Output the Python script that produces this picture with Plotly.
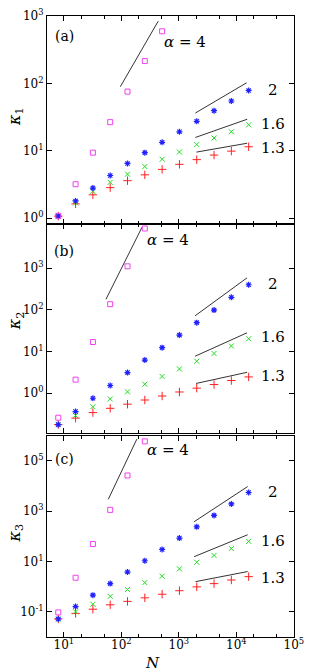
import plotly.graph_objects as go

# ---------------- data ----------------
N = [8, 16, 32, 64, 128, 256, 512, 1024, 2048, 4096, 8192, 16384]

K1_A4 = [1.08, 3.19, 9.4, 26.7, 76, 216, 598]
K1_A2 = [1.07, 1.8, 2.8, 4.3, 6.5, 9.4, 13.4, 19.2, 27.5, 39.5, 55, 79]
K1_A16 = [1.07, 1.68, 2.5, 3.4, 4.5, 5.85, 7.5, 9.6, 12.4, 15.5, 19.2, 24.4]
K1_A13 = [1.07, 1.63, 2.22, 2.84, 3.6, 4.4, 5.3, 6.3, 7.4, 8.65, 9.9, 11.5]

K2_A4 = [0.256, 2.1, 16.8, 136, 1100, 8900]
K2_A2 = [0.175, 0.36, 0.75, 1.52, 3.1, 6.2, 12.3, 24.6, 49, 98, 199, 398]
K2_A16 = [0.175, 0.29, 0.47, 0.72, 1.07, 1.63, 2.5, 3.8, 5.8, 8.9, 13.5, 20.1]
K2_A13 = [0.175, 0.25, 0.34, 0.43, 0.54, 0.68, 0.85, 1.06, 1.31, 1.6, 2.0, 2.44]

K3_A4 = [0.095, 2.26, 49.5, 1120, 26000, 590000]
K3_A2 = [0.052, 0.162, 0.46, 1.32, 3.8, 10.7, 30, 85, 237, 676, 1930, 5500]
K3_A16 = [0.052, 0.1, 0.2, 0.41, 0.77, 1.45, 2.6, 5.1, 9.3, 17.4, 32.8, 63]
K3_A13 = [0.052, 0.087, 0.127, 0.19, 0.26, 0.36, 0.5, 0.69, 0.98, 1.32, 1.84, 2.5]

# guide lines (power-law slopes): endpoints [N_start, N_end], [K_start, K_end]
G1_N = {"4": [96, 438], "2": [1941, 15136], "1.6": [1941, 15450], "1.3": [2018, 15450]}
G1_K = {"4": [89.7, 847], "2": [36.5, 102.8], "1.6": [15.8, 29.5], "1.3": [9.57, 12.97]}
G2_N = {"4": [54, 229], "2": [1919, 15350], "1.6": [1919, 15350], "1.3": [1995, 15450]}
G2_K = {"4": [178, 9550], "2": [71.6, 582], "1.6": [7.66, 27.9], "1.3": [1.70, 3.15]}
G3_N = {"4": [59.3, 186], "2": [1845, 15740], "1.6": [1845, 15740], "1.3": [1950, 15740]}
G3_K = {"4": [2950, 724000], "2": [380, 9480], "1.6": [15.5, 115], "1.3": [1.58, 3.98]}

X_TICKS = [10, 100, 1000, 10000, 100000]
X_TICKTEXT = ["10<sup>1</sup>", "10<sup>2</sup>", "10<sup>3</sup>", "10<sup>4</sup>", "10<sup>5</sup>"]
Y1_TICKS = [1, 10, 100, 1000]
Y1_TICKTEXT = ["10<sup>0</sup>", "10<sup>1</sup>", "10<sup>2</sup>", "10<sup>3</sup>"]
Y2_TICKS = [1, 10, 100, 1000]
Y2_TICKTEXT = ["10<sup>0</sup>", "10<sup>1</sup>", "10<sup>2</sup>", "10<sup>3</sup>"]
Y3_TICKS = [0.1, 10, 1000, 100000]
Y3_TICKTEXT = ["10<sup>-1</sup>", "10<sup>1</sup>", "10<sup>3</sup>", "10<sup>5</sup>"]

# ---------------- styling ----------------
FONT = "DejaVu Serif"
C_RED, C_GREEN, C_BLUE, C_MAG = "#ff2020", "#20dd20", "#2020ff", "#f040f0"
LINE_C = "#333333"

fig = go.Figure()

panels = [
    ("x", "y", K1_A4, K1_A2, K1_A16, K1_A13, G1_N, G1_K),
    ("x2", "y2", K2_A4, K2_A2, K2_A16, K2_A13, G2_N, G2_K),
    ("x3", "y3", K3_A4, K3_A2, K3_A16, K3_A13, G3_N, G3_K),
]

for xa, ya, a4, a2, a16, a13, gn, gk in panels:
    for key in ["4", "2", "1.6", "1.3"]:
        fig.add_trace(go.Scatter(x=gn[key], y=gk[key], mode="lines", xaxis=xa, yaxis=ya,
                                 line=dict(color=LINE_C, width=1), showlegend=False,
                                 hoverinfo="skip"))
    fig.add_trace(go.Scatter(x=N, y=a13, mode="markers", xaxis=xa, yaxis=ya, cliponaxis=False,
                             marker=dict(symbol="cross-thin-open", size=6, color=C_RED,
                                         line=dict(color=C_RED, width=1)), showlegend=False))
    fig.add_trace(go.Scatter(x=N, y=a16, mode="markers", xaxis=xa, yaxis=ya, cliponaxis=False,
                             marker=dict(symbol="x-thin-open", size=5, color=C_GREEN,
                                         line=dict(color=C_GREEN, width=1)), showlegend=False))
    fig.add_trace(go.Scatter(x=N, y=a2, mode="markers", xaxis=xa, yaxis=ya, cliponaxis=False,
                             marker=dict(symbol="asterisk-open", size=5, color=C_BLUE,
                                         line=dict(color=C_BLUE, width=1.2)), showlegend=False))
    fig.add_trace(go.Scatter(x=N[:len(a4)], y=a4, mode="markers", xaxis=xa, yaxis=ya,
                             cliponaxis=False,
                             marker=dict(symbol="square-open", size=5, color=C_MAG,
                                         line=dict(color=C_MAG, width=1)), showlegend=False))

minor_vals = []
for d in [1, 10, 100, 1000, 10000]:
    minor_vals += [2 * d, 5 * d]

def xaxis(anchor, show_labels):
    return dict(type="log", range=[0.707, 5.003], anchor=anchor, showline=True, linecolor="black",
                linewidth=1, mirror="ticks", ticks="inside", ticklen=5, tickcolor="black",
                tickvals=X_TICKS, ticktext=X_TICKTEXT, showticklabels=show_labels,
                ticklabeloverflow="allow", ticklabelstandoff=-3,
                showgrid=False, zeroline=False, tickfont=dict(family=FONT, size=12, color="black"),
                minor=dict(tickvals=minor_vals, ticks="inside", ticklen=3, tickcolor="black"))

def yaxis(anchor, rng, dom, tv, tt):
    return dict(type="log", range=rng, domain=dom, anchor=anchor, showline=True, linecolor="black",
                linewidth=1, mirror="ticks", ticks="inside", ticklen=5, tickcolor="black",
                tickvals=tv, ticktext=tt, showgrid=False, zeroline=False,
                ticklabeloverflow="allow",
                tickfont=dict(family=FONT, size=12, color="black"))

H = 629.0
def dom(top_px, bot_px):
    return [(637 - bot_px) / H, (637 - top_px) / H]

annots = []
labels = [
    ("x", "y", 3.115, 2.616, 1.008, 2.70, "(a)", [1.899, 1.40, 1.04]),
    ("x2", "y2", 2.815, 3.67, 1.008, 3.41, "(b)", [2.61, 1.34, 0.40]),
    ("x3", "y3", 2.815, 5.42, 1.008, 5.08, "(c)", [3.75, 1.83, 0.33]),
]
for xa, ya, ax_, ay_, px, py, ptxt, ys in labels:
    annots.append(dict(x=ax_, y=ay_, xref=xa, yref=ya, text="<i>α</i> = 4", showarrow=False,
                       font=dict(family=FONT, size=15, color="black")))
    annots.append(dict(x=px, y=py, xref=xa, yref=ya, text=ptxt, showarrow=False,
                       font=dict(family=FONT, size=14, color="black")))
    for txt, yy in zip(["2", "1.6", "1.3"], ys):
        annots.append(dict(x=4.63, y=yy, xref=xa, yref=ya, text=txt, showarrow=False,
                           font=dict(family=FONT, size=15, color="black")))

for txt, ypix in [("<i>κ</i><sub>1</sub>", 110), ("<i>κ</i><sub>2</sub>", 317), ("<i>κ</i><sub>3</sub>", 532)]:
    annots.append(dict(x=(14 - 47) / 257.0, y=(637 - ypix) / H, xref="paper", yref="paper",
                       xanchor="center", yanchor="middle",
                       text=txt, textangle=-90, showarrow=False,
                       font=dict(family=FONT, size=16, color="black")))
annots.append(dict(x=(157 - 47) / 257.0, y=(637 - 663) / H, xref="paper", yref="paper",
                   xanchor="center", yanchor="middle",
                   text="<i>N</i>", showarrow=False, font=dict(family=FONT, size=15, color="black")))

fig.update_layout(
    width=311, height=671,
    margin=dict(l=47, r=7, t=8, b=34),
    paper_bgcolor="white", plot_bgcolor="rgba(0,0,0,0)",
    font=dict(family=FONT),
    xaxis=xaxis("y", False),
    xaxis2=xaxis("y2", False),
    xaxis3=xaxis("y3", True),
    yaxis=yaxis("x", [-0.092, 3.004], dom(8, 219), Y1_TICKS, Y1_TICKTEXT),
    yaxis2=yaxis("x2", [-0.95, 4.05], dom(219, 430), Y2_TICKS, Y2_TICKTEXT),
    yaxis3=yaxis("x3", [-2.0, 6.0], dom(433, 637), Y3_TICKS, Y3_TICKTEXT),
    annotations=annots,
    showlegend=False,
)

fig.write_html("out.html", config={"displayModeBar": False},
               post_script="document.body.style.margin='0';document.body.style.overflow='hidden';")
